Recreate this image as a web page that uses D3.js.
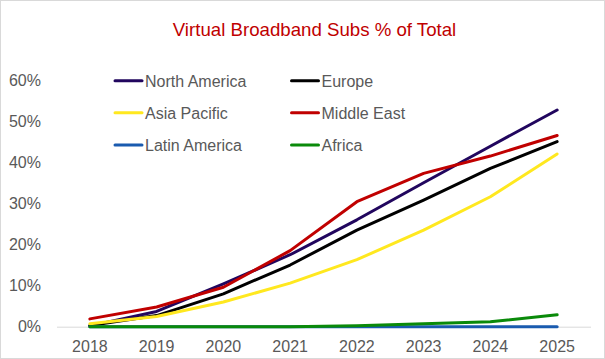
<!DOCTYPE html>
<html>
<head>
<meta charset="utf-8">
<script src="https://cdn.jsdelivr.net/npm/d3@7"></script>
<style>
  html, body { margin: 0; padding: 0; background: #fff; }
  svg { display: block; font-family: "Liberation Sans", Arial, sans-serif; }
</style>
</head>
<body>
<svg id="chart" width="605" height="359"></svg>
<script>
const years = ["2018", "2019", "2020", "2021", "2022", "2023", "2024", "2025"];
const yTicks = [0, 10, 20, 30, 40, 50, 60];
const seriesNames = ["North America", "Europe", "Asia Pacific", "Middle East", "Latin America", "Africa"];
const northAmerica = [0.2, 3.7, 10.4, 17.5, 26.0, 35.0, 43.9, 52.7];
const europe       = [0.3, 2.7, 8.0, 15.0, 23.5, 30.8, 38.5, 45.0];
const asiaPacific  = [0.7, 2.5, 6.0, 10.6, 16.3, 23.5, 31.6, 42.0];
const middleEast   = [1.9, 4.8, 9.6, 18.5, 30.4, 37.3, 41.5, 46.5];
const latinAmerica = [0, 0, 0, 0, 0, 0, 0, 0];
const africa       = [0, 0, 0, 0, 0.25, 0.7, 1.2, 2.9];
const seriesValues = [northAmerica, europe, asiaPacific, middleEast, latinAmerica, africa];
const colors = ["#21065E", "#000000", "#FFE81F", "#C00000", "#1A5BAF", "#0A8A0A"];

const svg = d3.select("#chart");
svg.append("rect").attr("x", 0.5).attr("y", 0.5).attr("width", 604).attr("height", 358)
  .attr("fill", "#fff").attr("stroke", "#D9D9D9");

svg.append("text").attr("x", 314.5).attr("y", 36).attr("text-anchor", "middle")
  .attr("font-size", "18.67px").attr("fill", "#C00000")
  .text("Virtual Broadband Subs % of Total");

const x = d3.scaleBand().domain(years).range([56.5, 590.5]);
const y = d3.scaleLinear().domain([0, 60]).range([326.7, 80]);

// y labels
const yAxis = svg.append("g").attr("transform", "translate(41,0)")
  .call(d3.axisLeft(y).tickValues(yTicks).tickFormat(d => d + "%").tickSize(0).tickPadding(0));
yAxis.select(".domain").remove();
yAxis.selectAll("text").attr("font-size", "16px").attr("fill", "#595959")
  .attr("font-family", "Liberation Sans, Arial, sans-serif");

// x axis
const xAxis = svg.append("g").attr("transform", "translate(0,326.7)")
  .call(d3.axisBottom(x).tickSize(0).tickPadding(0));
xAxis.select(".domain").attr("stroke", "#D9D9D9").attr("stroke-width", 1);
xAxis.selectAll("text").attr("font-size", "16px").attr("fill", "#595959")
  .attr("dy", null).attr("y", 25)
  .attr("font-family", "Liberation Sans, Arial, sans-serif");

const line = d3.line()
  .x((d, i) => x(years[i]) + x.bandwidth() / 2)
  .y(d => y(d));

seriesValues.forEach((vals, k) => {
  svg.append("path").datum(vals).attr("d", line)
    .attr("fill", "none").attr("stroke", colors[k]).attr("stroke-width", 3)
    .attr("stroke-linejoin", "round").attr("stroke-linecap", "round");
});

// legend
const legendCols = [115, 291.5];
const legendRows = [80.7, 112.7, 145];
seriesNames.forEach((name, k) => {
  const lx = legendCols[k % 2];
  const ly = legendRows[Math.floor(k / 2)];
  const g = svg.append("g");
  g.append("line").attr("x1", lx).attr("x2", lx + 27).attr("y1", ly).attr("y2", ly)
    .attr("stroke", colors[k]).attr("stroke-width", 3).attr("stroke-linecap", "round");
  g.append("text").attr("x", lx + 30).attr("y", ly + 6)
    .attr("font-size", "16px").attr("fill", "#595959").text(name);
});
</script>
</body>
</html>
